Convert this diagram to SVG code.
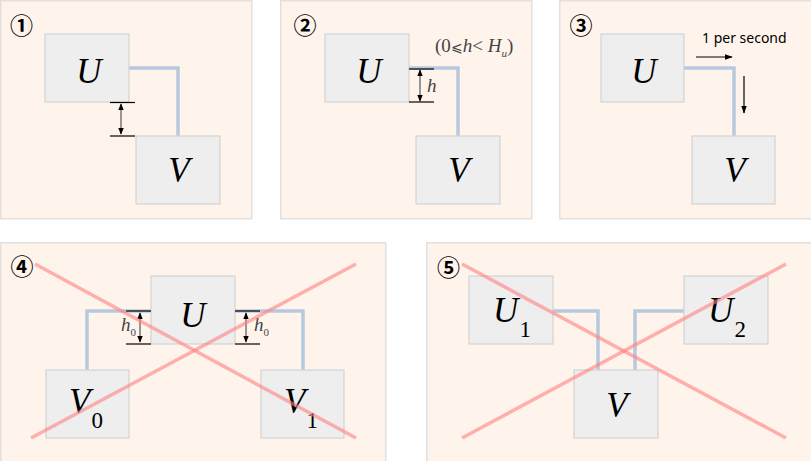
<svg xmlns="http://www.w3.org/2000/svg" width="811" height="461" viewBox="0 0 811 461">
<defs>
<marker id="ah" viewBox="0 0 10 10" refX="9" refY="5" markerWidth="7" markerHeight="7" orient="auto-start-reverse" markerUnits="userSpaceOnUse">
<path d="M0,1 L10,5 L0,9 z" fill="#000"/>
</marker>
<marker id="ah2" viewBox="0 0 10 10" refX="9" refY="5" markerWidth="8" markerHeight="8" orient="auto" markerUnits="userSpaceOnUse">
<path d="M0,1.5 L10,5 L0,8.5 z" fill="#000"/>
</marker>
<style>
.panel{fill:#fff4ec;stroke:#e4e0dc;stroke-width:1.5}
.box{fill:#eeeeee;stroke:#d2d2d2;stroke-width:1.2}
.conn{fill:none;stroke:#b8c9de;stroke-width:3.5}
.cross{stroke:#ff8080;stroke-opacity:0.6;stroke-width:3.5}
.dim{stroke:#000;stroke-width:1.2}
.darr{stroke:#555;stroke-width:1.2;marker-start:url(#ah);marker-end:url(#ah)}
.lbl{font-family:"Liberation Serif",serif;font-style:italic;font-size:35px;fill:#000;text-anchor:middle}
.sub{font-family:"Liberation Serif",serif;font-style:normal;font-size:23px}
.num{font-family:"Noto Sans CJK SC","DejaVu Sans",sans-serif;font-size:23px;font-weight:bold;fill:#000;text-anchor:middle}
.small{font-family:"Liberation Serif","DejaVu Serif",serif;font-size:19px;fill:#444}
.it{font-style:italic}
.note{font-family:"Noto Sans","Open Sans",sans-serif;font-size:14px;fill:#000}
</style>
</defs>
<g id="panels">
<rect class="panel" x="0.75" y="0.75" width="251" height="218"/>
<rect class="panel" x="280.75" y="0.75" width="251" height="218"/>
<rect class="panel" x="559.75" y="0.75" width="252" height="218"/>
<rect class="panel" x="0.75" y="242.75" width="385" height="220"/>
<rect class="panel" x="426.75" y="242.75" width="386" height="220"/>
</g>
<g id="numbers">
<text class="num" x="21.5" y="34">①</text>
<text class="num" x="305" y="34">②</text>
<text class="num" x="581" y="34">③</text>
<text class="num" x="22" y="275">④</text>
<text class="num" x="448.5" y="276">⑤</text>
</g>
<g id="connectors">
<polyline class="conn" points="129,68 178,68 178,136"/>
<polyline class="conn" points="409,68 458,68 458,136"/>
<polyline class="conn" points="684,68 734,68 734,136"/>
<polyline class="conn" points="151,311 87,311 87,370"/>
<polyline class="conn" points="235,311 303,311 303,370"/>
<polyline class="conn" points="553,311 598,311 598,370"/>
<polyline class="conn" points="684,311 635,311 635,370"/>
</g>
<g id="p1">
<g id="p1-u"><rect class="box" x="45" y="34" width="84" height="68"/><text class="lbl" x="89" y="83">U</text></g>
<g id="p1-v"><rect class="box" x="136" y="136" width="84" height="68"/><text class="lbl" x="179" y="182">V</text></g>
<line class="dim" x1="110" y1="102.5" x2="135" y2="102.5"/>
<line class="dim" x1="110" y1="136" x2="135" y2="136"/>
<line class="darr" x1="121" y1="104" x2="121" y2="134"/>
</g>
<g id="p2">
<g id="p2-u"><rect class="box" x="325" y="34" width="84" height="68"/><text class="lbl" x="369" y="83">U</text></g>
<g id="p2-v"><rect class="box" x="416" y="136" width="84" height="68"/><text class="lbl" x="459" y="182">V</text></g>
<line class="dim" x1="409" y1="69" x2="434" y2="69"/>
<line class="dim" x1="409" y1="102" x2="434" y2="102"/>
<line class="darr" x1="420" y1="70" x2="420" y2="101"/>
<text class="small it" x="427" y="92" font-size="20" fill="#000">h</text>
<text class="small" x="435" y="52">(0<tspan font-family="DejaVu Serif" font-size="14">⩽</tspan><tspan class="it">h</tspan>&lt;<tspan class="it"> H</tspan><tspan class="it" font-size="11" dy="5">u</tspan><tspan dy="-5">)</tspan></text>
</g>
<g id="p3">
<g id="p3-u"><rect class="box" x="601" y="34" width="83" height="68"/><text class="lbl" x="644" y="83">U</text></g>
<g id="p3-v"><rect class="box" x="692" y="136" width="83" height="68"/><text class="lbl" x="735" y="182">V</text></g>
<text class="note" x="702" y="43">1 per second</text>
<line stroke="#000" stroke-width="1.2" x1="696" y1="57" x2="732" y2="57" marker-end="url(#ah2)"/>
<line stroke="#000" stroke-width="1.2" x1="744" y1="76" x2="744" y2="113" marker-end="url(#ah2)"/>
</g>
<g id="p4">
<g id="p4-u"><rect class="box" x="151" y="276" width="84" height="68"/><text class="lbl" x="193" y="327">U</text></g>
<g id="p4-v0"><rect class="box" x="46" y="370" width="83" height="68"/><text class="lbl" x="86" y="413">V<tspan class="sub" dx="1" dy="15">0</tspan></text></g>
<g id="p4-v1"><rect class="box" x="261" y="370" width="83" height="68"/><text class="lbl" x="301" y="413">V<tspan class="sub" dx="1" dy="15">1</tspan></text></g>
<line class="dim" x1="126" y1="311" x2="151" y2="311"/>
<line class="dim" x1="126" y1="344" x2="151" y2="344"/>
<line class="darr" x1="140" y1="313" x2="140" y2="342"/>
<text class="small it" x="121" y="331" font-size="16" fill="#000">h<tspan font-style="normal" font-size="11" dy="5">0</tspan></text>
<line class="dim" x1="235" y1="311" x2="260" y2="311"/>
<line class="dim" x1="235" y1="344" x2="260" y2="344"/>
<line class="darr" x1="246" y1="313" x2="246" y2="342"/>
<text class="small it" x="254" y="331" font-size="16" fill="#000">h<tspan font-style="normal" font-size="11" dy="5">0</tspan></text>
<line class="cross" x1="35" y1="264" x2="356" y2="438"/>
<line class="cross" x1="31" y1="438" x2="356" y2="264"/>
</g>
<g id="p5">
<g id="p5-u1"><rect class="box" x="469" y="276" width="84" height="68"/><text class="lbl" x="512" y="322">U<tspan class="sub" dx="1" dy="15">1</tspan></text></g>
<g id="p5-u2"><rect class="box" x="684" y="276" width="84" height="68"/><text class="lbl" x="727" y="322">U<tspan class="sub" dx="1" dy="15">2</tspan></text></g>
<g id="p5-v"><rect class="box" x="574" y="370" width="84" height="68"/><text class="lbl" x="617" y="417">V</text></g>
<line class="cross" x1="462" y1="264" x2="786" y2="438"/>
<line class="cross" x1="462" y1="438" x2="786" y2="264"/>
</g>
</svg>
